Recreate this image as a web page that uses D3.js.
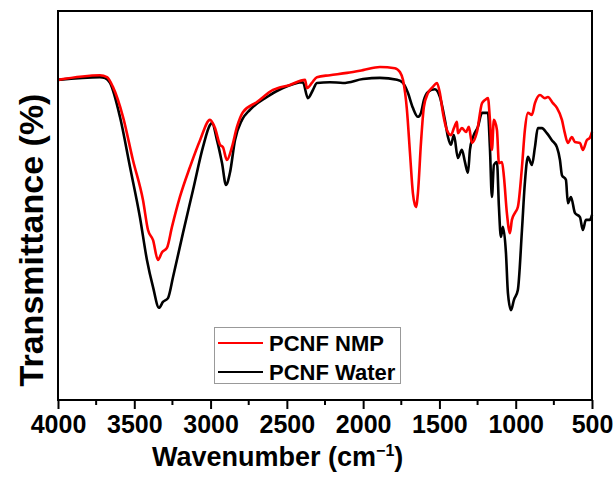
<!DOCTYPE html>
<html>
<head>
<meta charset="utf-8">
<script src="https://cdn.jsdelivr.net/npm/d3@7"></script>
<style>
    body { margin: 0; background: #fff; }
    svg { display: block; font-family: "Liberation Sans", Arial, sans-serif; font-weight: bold; }
</style>
</head>
<body>
<svg id="chart" width="614" height="477"></svg>
<script>
// [wavenumber cm-1, transmittance %]
const pcnfNmp = [
    [4000, 82.3], [3725, 83.5], [3679, 83.0], [3640, 80.5], [3574, 72.8], [3509, 61.7],
    [3443, 51.4], [3410, 43.7], [3377, 41.1], [3345, 36.0], [3318, 38.0], [3286, 39.1],
    [3253, 44.5], [3201, 52.2], [3135, 59.9], [3069, 66.8], [3004, 72.0], [2971, 69.9],
    [2938, 65.6], [2919, 65.0], [2893, 61.7], [2860, 65.0], [2827, 70.2], [2788, 74.0],
    [2696, 76.6], [2591, 79.7], [2480, 81.0], [2381, 82.3], [2368, 80.2], [2336, 81.5],
    [2303, 83.0], [2218, 83.5], [2106, 84.1], [2001, 84.8], [1890, 85.6], [1792, 85.3],
    [1759, 84.3], [1739, 82.3], [1713, 74.6], [1693, 63.5], [1674, 53.2], [1654, 49.6],
    [1641, 53.2], [1621, 66.1], [1602, 75.3], [1575, 78.9], [1543, 80.5], [1516, 81.5],
    [1497, 78.9], [1477, 73.8], [1451, 69.4], [1425, 68.1], [1405, 69.9], [1385, 71.5],
    [1379, 68.6], [1353, 69.9], [1326, 68.9], [1307, 70.2], [1287, 66.1], [1254, 68.9],
    [1221, 76.3], [1202, 77.1], [1182, 77.6], [1169, 72.0], [1156, 64.3], [1143, 72.0],
    [1123, 69.4], [1110, 60.9], [1090, 61.2], [1077, 57.3], [1058, 48.1], [1038, 42.9],
    [1025, 46.3], [1005, 48.1], [986, 49.6], [959, 59.9], [940, 69.4], [920, 73.8],
    [894, 73.3], [874, 76.3], [841, 78.4], [809, 77.6], [789, 77.9], [756, 76.3],
    [730, 75.1], [697, 72.0], [678, 68.6], [658, 66.1], [632, 67.6], [612, 66.3],
    [579, 66.1], [560, 64.3], [534, 66.8], [514, 67.4], [500, 68.9]
];

const pcnfWater = [
    [4000, 82.3], [3725, 83.0], [3692, 82.8], [3659, 81.5], [3594, 72.8], [3528, 59.9],
    [3463, 47.0], [3417, 36.0], [3377, 29.0], [3338, 23.7], [3312, 25.2], [3279, 26.2],
    [3246, 31.6], [3181, 42.9], [3115, 54.0], [3050, 65.0], [3004, 70.7], [2991, 71.2],
    [2958, 66.8], [2925, 60.9], [2899, 55.3], [2873, 58.4], [2840, 66.8], [2794, 72.0],
    [2742, 74.6], [2630, 77.9], [2526, 80.2], [2395, 81.7], [2362, 77.6], [2329, 79.7],
    [2303, 81.5], [2218, 81.7], [2132, 81.5], [2001, 82.5], [1890, 82.8], [1778, 82.3],
    [1739, 81.5], [1706, 78.9], [1674, 75.1], [1641, 72.8], [1621, 73.8], [1602, 77.1],
    [1575, 79.2], [1530, 79.9], [1497, 77.9], [1464, 72.0], [1444, 67.6], [1425, 65.6],
    [1405, 68.1], [1379, 62.2], [1353, 64.3], [1333, 61.2], [1313, 58.4], [1300, 64.3],
    [1280, 67.6], [1248, 70.2], [1221, 73.8], [1202, 73.8], [1182, 73.8], [1169, 64.8],
    [1156, 52.2], [1143, 60.4], [1123, 61.2], [1110, 49.6], [1097, 41.9], [1084, 44.5],
    [1064, 37.8], [1051, 27.5], [1031, 23.1], [1012, 25.7], [986, 28.3], [959, 43.7],
    [940, 55.8], [920, 62.5], [894, 60.4], [874, 65.0], [855, 69.9], [828, 69.9],
    [796, 68.6], [763, 66.8], [730, 65.0], [710, 61.7], [697, 57.8], [671, 56.6],
    [658, 50.6], [638, 52.2], [612, 48.1], [579, 47.0], [560, 43.7], [540, 46.3],
    [514, 46.3], [500, 47.6]
];

const series = [
    { name: 'PCNF NMP', color: '#ff0000', values: pcnfNmp },
    { name: 'PCNF Water', color: '#000000', values: pcnfWater }
];

const majorTicks = [4000, 3500, 3000, 2500, 2000, 1500, 1000, 500];
const minorTicks = [3750, 3250, 2750, 2250, 1750, 1250, 750];

const svg = d3.select('#chart');
const margin = { top: 11, right: 22, bottom: 77, left: 58 };
const width = +svg.attr('width');
const height = +svg.attr('height');

const x = d3.scaleLinear()
    .domain([4000, 500])
    .range([margin.left, width - margin.right]);

const y = d3.scaleLinear()
    .domain([0, 100])
    .range([height - margin.bottom, margin.top]);

const line = d3.line()
    .x(d => x(d[0]))
    .y(d => y(d[1]))
    .curve(d3.curveMonotoneX);

// curves (water drawn first so NMP sits on top like the original)
svg.selectAll('path.spectrum')
    .data(series.slice().reverse())
    .enter()
    .append('path')
    .attr('class', 'spectrum')
    .attr('d', d => line(d.values.slice().reverse()))
    .attr('fill', 'none')
    .attr('stroke', d => d.color)
    .attr('stroke-width', 2.6)
    .attr('stroke-linejoin', 'round');

// bottom axis
const xAxis = svg.append('g')
    .attr('transform', `translate(0,${height - margin.bottom})`)
    .call(d3.axisBottom(x).tickValues(majorTicks).tickSize(9).tickPadding(6).tickFormat(d3.format('d')));

xAxis.select('.domain').remove();
xAxis.selectAll('line').attr('stroke', '#000').attr('stroke-width', 2);
xAxis.selectAll('text')
    .attr('fill', '#000')
    .style('font-size', '25px')
    .style('font-weight', 'bold')
    .style('font-family', '"Liberation Sans", Arial, sans-serif');

svg.append('g')
    .selectAll('line')
    .data(minorTicks)
    .enter()
    .append('line')
    .attr('x1', d => x(d))
    .attr('x2', d => x(d))
    .attr('y1', height - margin.bottom)
    .attr('y2', height - margin.bottom + 5)
    .attr('stroke', '#000')
    .attr('stroke-width', 2);

// frame
svg.append('rect')
    .attr('x', margin.left)
    .attr('y', margin.top)
    .attr('width', width - margin.left - margin.right)
    .attr('height', height - margin.top - margin.bottom)
    .attr('fill', 'none')
    .attr('stroke', '#000')
    .attr('stroke-width', 2);

// axis titles
const xTitle = svg.append('text')
    .attr('x', 152)
    .attr('y', 466)
    .style('font-size', '27px');
xTitle.append('tspan').text('Wavenumber (cm');
xTitle.append('tspan').attr('dy', -10).style('font-size', '16px').text('\u22121');
xTitle.append('tspan').attr('dy', 10).text(')');

svg.append('text')
    .attr('transform', 'translate(43,240) rotate(-90)')
    .attr('text-anchor', 'middle')
    .style('font-size', '34px')
    .text('Transmittance (%)');

// legend
const legend = svg.append('g');
legend.append('rect')
    .attr('x', 214.5)
    .attr('y', 327.5)
    .attr('width', 186)
    .attr('height', 56)
    .attr('fill', '#fff')
    .attr('stroke', '#999')
    .attr('stroke-width', 1);

const items = legend.selectAll('g.item')
    .data(series)
    .enter()
    .append('g')
    .attr('class', 'item')
    .attr('transform', (d, i) => `translate(0,${343 + i * 29})`);

items.append('line')
    .attr('x1', 218)
    .attr('x2', 263)
    .attr('stroke', d => d.color)
    .attr('stroke-width', 2.2);

items.append('text')
    .attr('x', 269)
    .attr('dy', '0.35em')
    .style('font-size', '22px')
    .text(d => d.name);
</script>
</body>
</html>
